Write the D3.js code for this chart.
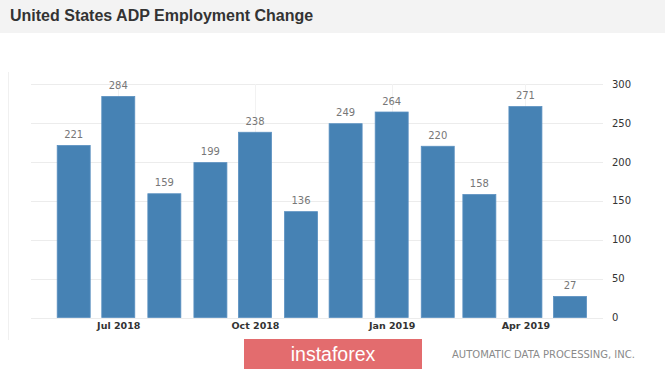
<!DOCTYPE html>
<html>
<head>
<meta charset="utf-8">
<script src="https://cdn.jsdelivr.net/npm/d3@7"></script>
<style>
  body { margin: 0; background: #fff; }
  svg { display: block; }
</style>
</head>
<body>
<svg id="chart" width="665" height="370"></svg>
<script>
// monthly values, Jun 2018 - May 2019
var months = ["2018-06","2018-07","2018-08","2018-09","2018-10","2018-11",
              "2018-12","2019-01","2019-02","2019-03","2019-04","2019-05"];
var values = [221, 284, 159, 199, 238, 136, 249, 264, 220, 158, 271, 27];
var yTicks = [0, 50, 100, 150, 200, 250, 300];
var xTicks = ["2018-07", "2018-10", "2019-01", "2019-04"];

var parseMonth = d3.timeParse("%Y-%m");
var data = months.map(function (m, i) {
    return { date: parseMonth(m), value: values[i] };
});

var svg = d3.select("#chart");

// title bar
svg.append("rect")
    .attr("x", 0).attr("y", 0)
    .attr("width", 665).attr("height", 33)
    .attr("fill", "#f3f3f3");
svg.append("text")
    .attr("x", 10).attr("y", 21)
    .attr("font-family", "Liberation Sans, Arial, sans-serif")
    .attr("font-size", 16)
    .attr("font-weight", "bold")
    .attr("fill", "#333")
    .text("United States ADP Employment Change");

// faint container edge
svg.append("line")
    .attr("x1", 8.5).attr("x2", 8.5)
    .attr("y1", 72).attr("y2", 340)
    .attr("stroke", "#f0f0f0");

var x = d3.scaleTime()
    .domain([parseMonth("2018-06"), parseMonth("2019-05")])
    .range([73.7, 570]);

var y = d3.scaleLinear()
    .domain([0, 300])
    .range([317.5, 84]);

var barW = 33;
var gridLeft = 31, gridRight = 603;

// horizontal grid
svg.append("g")
    .selectAll("line")
    .data(yTicks)
    .enter().append("line")
    .attr("x1", gridLeft).attr("x2", gridRight)
    .attr("y1", function (d) { return Math.round(y(d)) + 0.5; })
    .attr("y2", function (d) { return Math.round(y(d)) + 0.5; })
    .attr("stroke", "#ececec");

// vertical grid at labelled months
svg.append("g")
    .selectAll("line")
    .data(xTicks)
    .enter().append("line")
    .attr("x1", function (d) { return Math.round(x(parseMonth(d))) + 0.5; })
    .attr("x2", function (d) { return Math.round(x(parseMonth(d))) + 0.5; })
    .attr("y1", 84).attr("y2", 317.5)
    .attr("stroke", "#f2f2f2");

// bars
svg.append("g")
    .selectAll("rect")
    .data(data)
    .enter().append("rect")
    .attr("x", function (d) { return x(d.date) - barW / 2; })
    .attr("y", function (d) { return y(d.value); })
    .attr("width", barW)
    .attr("height", function (d) { return y(0) - y(d.value); })
    .attr("fill", "#4682b4")
    .attr("stroke", "#5a90c0")
    .attr("stroke-width", 0.8);

// value labels
svg.append("g")
    .selectAll("text")
    .data(data)
    .enter().append("text")
    .attr("x", function (d) { return x(d.date); })
    .attr("y", function (d) { return y(d.value) - 7.5; })
    .attr("text-anchor", "middle")
    .attr("font-family", "DejaVu Sans, sans-serif")
    .attr("font-size", 10)
    .attr("fill", "#777")
    .text(function (d) { return d.value; });

// y axis (right)
var yAxis = svg.append("g")
    .attr("transform", "translate(" + 612 + ",0)")
    .call(d3.axisRight(y).tickValues(yTicks).tickSize(0).tickPadding(0));
yAxis.select(".domain").remove();
yAxis.selectAll("text")
    .attr("font-family", "DejaVu Sans, sans-serif")
    .attr("font-size", 10)
    .attr("fill", "#333");

// x axis
var xAxis = svg.append("g")
    .attr("transform", "translate(0," + 322.5 + ")")
    .call(d3.axisBottom(x)
        .tickValues(xTicks.map(parseMonth))
        .tickFormat(d3.timeFormat("%b %Y"))
        .tickSize(0).tickPadding(0));
xAxis.select(".domain").remove();
xAxis.selectAll("text")
    .attr("font-family", "DejaVu Sans, sans-serif")
    .attr("font-size", 9.5)
    .attr("font-weight", "bold")
    .attr("fill", "#333");

// footer
svg.append("rect")
    .attr("x", 244).attr("y", 339)
    .attr("width", 178).attr("height", 30)
    .attr("fill", "#e36c6e");
svg.append("text")
    .attr("x", 333).attr("y", 361)
    .attr("text-anchor", "middle")
    .attr("font-family", "Liberation Sans, Arial, sans-serif")
    .attr("font-size", 19.5)
    .attr("fill", "#fff")
    .text("instaforex");
svg.append("text")
    .attr("x", 452).attr("y", 358)
    .attr("font-family", "DejaVu Sans, sans-serif")
    .attr("font-size", 10)
    .attr("fill", "#8a8a8a")
    .text("AUTOMATIC DATA PROCESSING, INC.");
</script>
</body>
</html>
